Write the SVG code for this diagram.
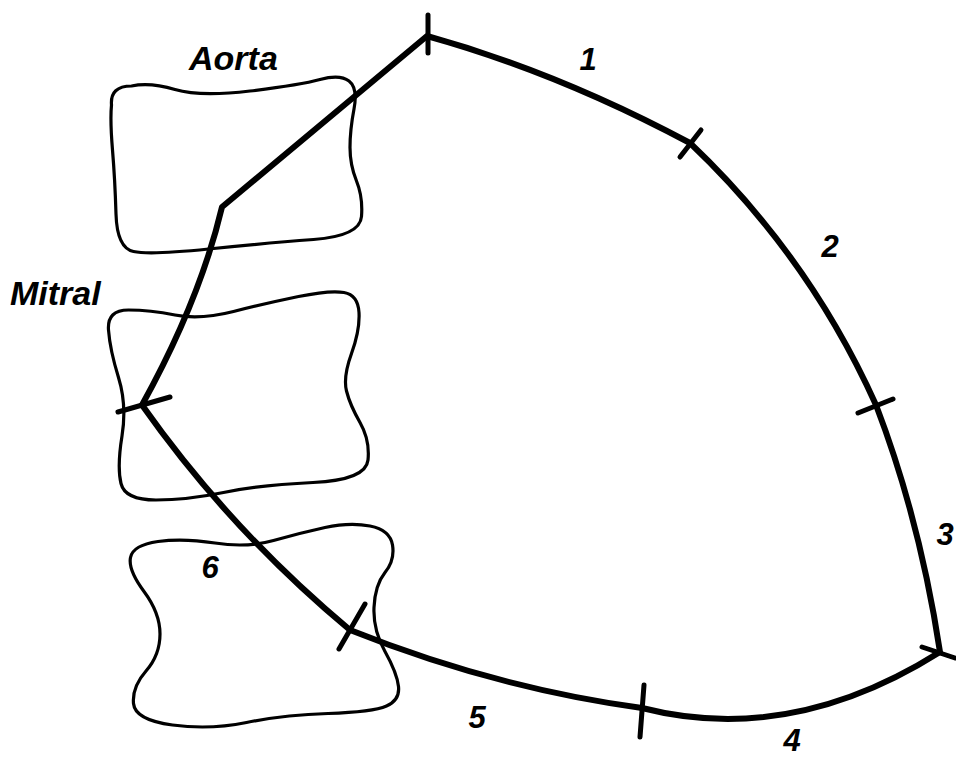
<svg xmlns="http://www.w3.org/2000/svg" width="956" height="760" viewBox="0 0 956 760">
<style>
.blob{fill:none;stroke:#000;stroke-width:3.2;stroke-linejoin:round}
.outline{fill:none;stroke:#000;stroke-width:6;stroke-linejoin:round;stroke-linecap:round}
.tick{fill:none;stroke:#000;stroke-width:5;stroke-linecap:round}
.lbl{font-family:"Liberation Sans",Arial,sans-serif;font-style:italic;font-weight:bold;font-size:34px;fill:#000}
.num{font-family:"Liberation Sans",Arial,sans-serif;font-style:italic;font-weight:bold;font-size:31px;fill:#000;text-anchor:middle}
</style>
<rect width="956" height="760" fill="#fff"/>
<g id="aorta">
<path class="blob" d="M 111.5,105 Q 110,86 131.5,86 Q 150,82 175,89.5 Q 200,97 250,91 Q 300,85 320,79.5 Q 340,74 349,81 Q 358,88 354,109 Q 350,130 350,147.5 Q 350,165 356.5,181 Q 363,197 361.5,216.5 Q 360,236 313.5,239.5 Q 267,243 208.5,249 Q 150,255 133.5,251.5 Q 117,248 116,214 Q 115,180 112.5,150 Q 110,120 111.5,105 Z"/>
<text class="lbl" x="189" y="70">Aorta</text>
</g>
<g id="mitral">
<path class="blob" d="M 108.5,330 Q 107,310 128.5,310 Q 150,310 175,315 Q 200,320 233.5,311.5 Q 267,303 298.5,296.5 Q 330,290 344,292.5 Q 358,295 359,312.5 Q 360,330 351.5,353.5 Q 343,377 346.5,391 Q 350,405 360,422.5 Q 370,440 368,460 Q 366,480 313,482.5 Q 260,485 223.5,492.5 Q 187,500 156,500 Q 125,500 121,483.5 Q 117,467 122,436 Q 127,405 118.5,377.5 Q 110,350 108.5,330 Z"/>
<text class="lbl" x="10" y="305">Mitral</text>
</g>
<g id="lower">
<path class="blob" d="M 130.5,557.5 Q 133,545 158,541.5 Q 183,538 215,543 Q 247,548 273.5,540.5 Q 300,533 325,527.5 Q 350,522 370,526 Q 390,530 392.5,545 Q 395,560 385,572.5 Q 375,585 374,607.5 Q 373,630 385,651.5 Q 397,673 398.5,686.5 Q 400,700 386.5,706 Q 373,712 328,713.5 Q 283,715 246.5,722.5 Q 210,730 172.5,725 Q 135,720 133.5,703.5 Q 132,687 146,671 Q 160,655 160,634 Q 160,613 144,591.5 Q 128,570 130.5,557.5 Z"/>
</g>
<g id="connectors">
<path class="outline" d="M 142,405 Q 200,300 222,207 L 427,36 Q 557,72 690,143 Q 809,256 876,405 Q 920,520 940,652 Q 791,746 642,708 Q 495,688 350,630 Q 231,531 142,405 Z"/>
<line class="tick" x1="428" y1="15" x2="428" y2="53"/>
<line class="tick" x1="680" y1="157" x2="701" y2="130"/>
<line class="tick" x1="858" y1="413" x2="893" y2="399"/>
<line class="tick" x1="922" y1="647" x2="955" y2="658"/>
<line class="tick" x1="644" y1="685" x2="640" y2="737"/>
<line class="tick" x1="339" y1="649" x2="365" y2="604"/>
<line class="tick" x1="118" y1="412" x2="170" y2="397"/>
</g>
<g id="labels">
<text class="num" x="588" y="70">1</text>
<text class="num" x="830" y="257">2</text>
<text class="num" x="945" y="545">3</text>
<text class="num" x="792" y="751">4</text>
<text class="num" x="477" y="728">5</text>
<text class="num" x="210" y="578">6</text>
</g>
</svg>
